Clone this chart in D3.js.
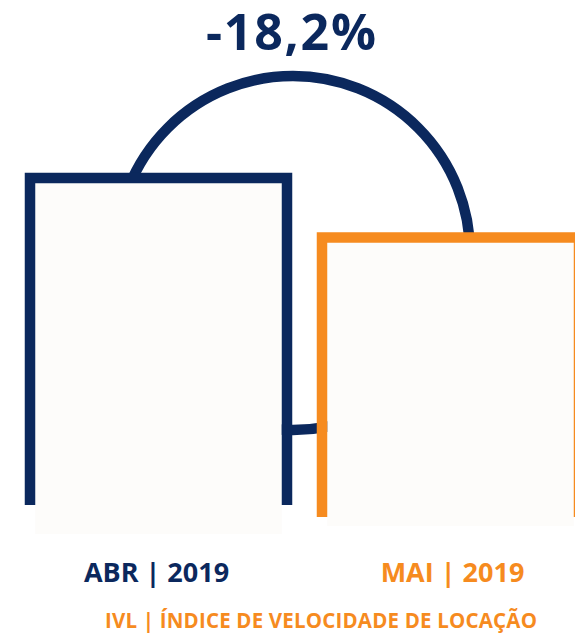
<!DOCTYPE html>
<html>
<head>
<meta charset="utf-8">
<script src="https://cdn.jsdelivr.net/npm/d3@7"></script>
<style>
  html, body { margin: 0; padding: 0; background: #ffffff; }
  svg { display: block; }
</style>
</head>
<body>
<div id="chart"></div>
<script>
// IVL index, April = 100
const months = ["ABR | 2019", "MAI | 2019"];
const ivlValues = [100, 81.8];
const chartTitle = "IVL | ÍNDICE DE VELOCIDADE DE LOCAÇÃO";

function drawIvlChart(divId) {
  const width = 575;
  const height = 636;
  const navy = "#0b285d";
  const orange = "#f68b1f";
  const colors = [navy, orange];
  const paper = "#fdfcfa";
  const strokeW = 10.5;

  const svg = d3.select(`#${divId}`)
    .append("svg")
    .attr("width", width)
    .attr("height", height)
    .style("font-family", "'Open Sans', sans-serif");

  svg.append("rect")
    .attr("width", width)
    .attr("height", height)
    .attr("fill", "#ffffff");

  const xScale = d3.scaleBand()
    .domain(months)
    .range([30, 579])
    .paddingInner(35 / 292)
    .paddingOuter(0);

  const yScale = d3.scaleLinear()
    .domain([0, 100])
    .range([505, 178]);

  // how far the stroke / the paper fill reach below the baseline
  const strokeDrop = [0, 12];
  const fillDrop = [29, 21];

  // change ring (sits behind the bars)
  const ptBR = d3.formatLocale({ decimal: ",", thousands: ".", grouping: [3], currency: ["R$", ""] });
  const change = ivlValues[1] / ivlValues[0] - 1;

  svg.append("circle")
    .attr("class", "change-ring")
    .attr("cx", 293)
    .attr("cy", 253)
    .attr("r", 177)
    .attr("fill", "none")
    .attr("stroke", navy)
    .attr("stroke-width", strokeW);

  svg.append("text")
    .attr("class", "change-label")
    .attr("x", 291)
    .attr("y", 50)
    .attr("text-anchor", "middle")
    .attr("fill", navy)
    .attr("textLength", 170)
    .attr("lengthAdjust", "spacing")
    .style("font-size", "50px")
    .style("font-weight", 700)
    .text(ptBR.format(".1%")(change).replace("−", "-"));

  const bars = svg.selectAll(".bar")
    .data(months.map((m, i) => ({ month: m, value: ivlValues[i], i })))
    .join("g")
    .attr("class", "bar");

  // paper fill
  bars.append("rect")
    .attr("x", (d) => xScale(d.month) + strokeW / 2)
    .attr("y", (d) => yScale(d.value))
    .attr("width", xScale.bandwidth() - strokeW)
    .attr("height", (d) => yScale(0) + fillDrop[d.i] - yScale(d.value))
    .attr("fill", paper);

  // open-bottom outline
  bars.append("path")
    .attr("fill", "none")
    .attr("stroke", (d) => colors[d.i])
    .attr("stroke-width", strokeW)
    .attr("stroke-linejoin", "miter")
    .attr("d", (d) => {
      const x0 = xScale(d.month);
      const x1 = x0 + xScale.bandwidth();
      const yb = yScale(0) + strokeDrop[d.i];
      const yt = yScale(d.value);
      return `M${x0},${yb}V${yt}H${x1}V${yb}`;
    });

  bars.append("text")
    .attr("x", (d) => xScale(d.month) + xScale.bandwidth() / 2 - 2 + d.i * 4)
    .attr("y", 582)
    .attr("text-anchor", "middle")
    .attr("fill", (d) => colors[d.i])
    .style("font-size", "27px")
    .style("font-weight", 700)
    .text((d) => d.month);

  svg.append("text")
    .attr("class", "title")
    .attr("x", 321)
    .attr("y", 628)
    .attr("text-anchor", "middle")
    .attr("fill", orange)
    .attr("textLength", 432)
    .attr("lengthAdjust", "spacing")
    .style("font-size", "20.5px")
    .style("font-weight", 700)
    .text(chartTitle);
}

drawIvlChart("chart");
</script>
</body>
</html>
